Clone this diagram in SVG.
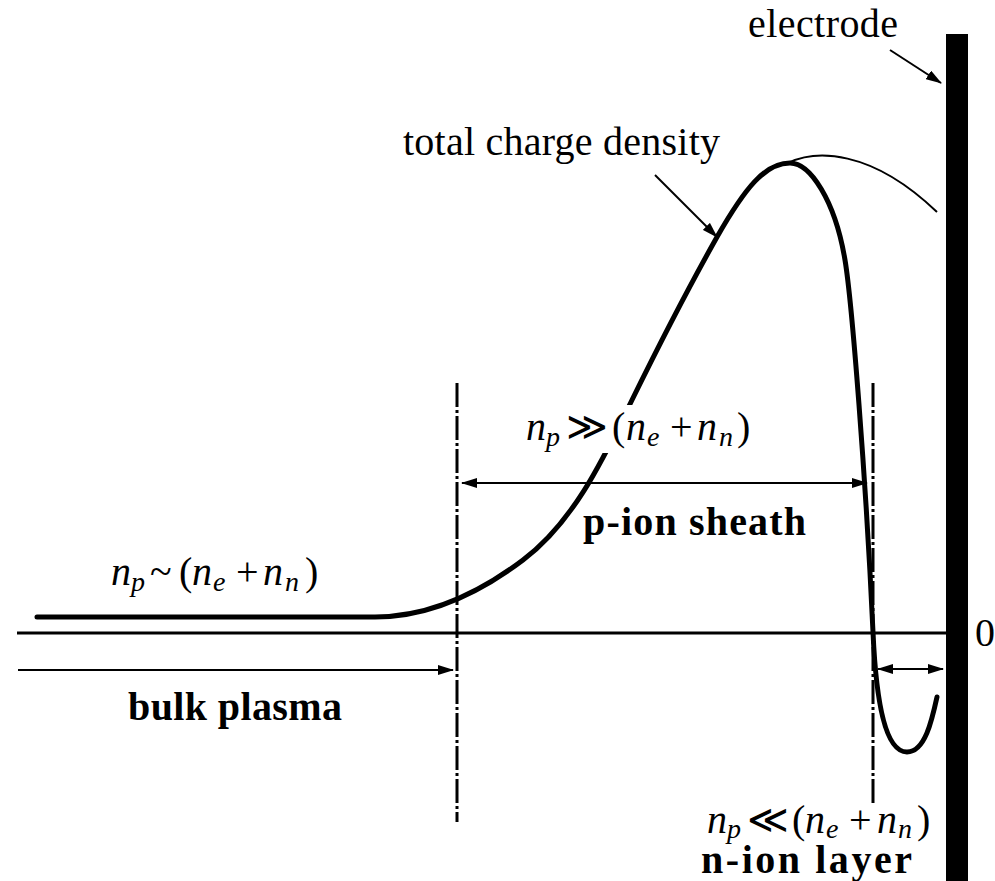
<svg xmlns="http://www.w3.org/2000/svg" width="995" height="881" viewBox="0 0 995 881">
<defs>
<style>
.t{font-family:"Liberation Serif","Times New Roman",serif;font-size:40px;fill:#000}
.b{font-weight:bold}
.m{font-family:"Liberation Serif","Times New Roman",serif;font-size:40px;font-style:italic;fill:#000}
.u{font-style:normal}
.s{font-size:28px}
.ln{stroke:#000;stroke-width:2;fill:none}
.dd{stroke:#000;stroke-width:3;fill:none;stroke-dasharray:24 3 3 3}
</style>
<marker id="ah" markerWidth="16" markerHeight="10" refX="15" refY="5" orient="auto-start-reverse" markerUnits="userSpaceOnUse">
<path d="M0,0 L16,5 L0,10 Z" fill="#000"/>
</marker>
</defs>
<rect width="995" height="881" fill="#fff"/>
<g id="electrode">
<rect x="946" y="34" width="22" height="847" fill="#000"/>
</g>
<g id="axis">
<line x1="17" y1="633" x2="946" y2="633" stroke="#000" stroke-width="3"/>
<text class="t" x="975" y="646">0</text>
</g>
<g id="boundaries">
<line class="dd" x1="457" y1="383" x2="457" y2="822"/>
<line class="dd" x1="873" y1="383" x2="873" y2="806"/>
</g>
<g id="curves">
<path d="M37,617 L375,617 C420,617 470,600 523,560 C575,521 605,455 632,400 C660,343 690,285 717,237 C745,188 765,163 790,163 C810,163 835,200 845,260 C852,302 866,480 873,632 C876,700 885,752 907,752 C925,752 932,720 937,697" fill="none" stroke="#000" stroke-width="5" stroke-linecap="round"/>
<path d="M788,163 C815,150 870,148 937,212" fill="none" stroke="#000" stroke-width="2"/>
</g>
<g id="connectors">
<line class="ln" x1="890" y1="50" x2="941" y2="83" marker-end="url(#ah)"/>
<line class="ln" x1="655" y1="175" x2="717" y2="237" marker-end="url(#ah)"/>
<line class="ln" x1="462" y1="483" x2="867" y2="483" marker-start="url(#ah)" marker-end="url(#ah)"/>
<line class="ln" x1="18" y1="670" x2="453" y2="670" marker-end="url(#ah)"/>
<line class="ln" x1="878" y1="669" x2="943" y2="669" marker-start="url(#ah)" marker-end="url(#ah)"/>
</g>
<g id="labels">
<text class="t" x="748" y="37" textLength="150">electrode</text>
<text class="t" x="403" y="155" textLength="317">total charge density</text>
<text class="t b" x="128" y="720" textLength="214">bulk plasma</text>
<text class="t b" x="583" y="535" textLength="223">p-ion sheath</text>
<text class="t b" x="701" y="873" textLength="211">n-ion layer</text>
</g>
<g id="bulk-label">
<text class="m" y="585"><tspan x="111">n</tspan><tspan class="s" x="131" y="591">p</tspan><tspan class="u" x="150" y="585">~</tspan><tspan class="u" x="179">(</tspan><tspan x="192">n</tspan><tspan class="s" x="213" y="591">e</tspan><tspan class="u" x="236" y="585">+</tspan><tspan x="263">n</tspan><tspan class="s" x="285" y="591">n</tspan><tspan class="u" x="305" y="585">)</tspan></text>
</g>
<g id="sheath-label">
<rect x="600" y="405" width="40" height="48" fill="#fff"/>
<text class="m" y="440"><tspan x="526">n</tspan><tspan class="s" x="546" y="446">p</tspan><tspan class="u" x="566" y="440">≫</tspan><tspan class="u" x="612">(</tspan><tspan x="626">n</tspan><tspan class="s" x="647" y="446">e</tspan><tspan class="u" x="670" y="440">+</tspan><tspan x="697">n</tspan><tspan class="s" x="719" y="446">n</tspan><tspan class="u" x="737" y="440">)</tspan></text>
</g>
<g id="nion-label">
<text class="m" y="833"><tspan x="707">n</tspan><tspan class="s" x="727" y="838">p</tspan><tspan class="u" x="747" y="833">≪</tspan><tspan class="u" x="792">(</tspan><tspan x="805">n</tspan><tspan class="s" x="826" y="838">e</tspan><tspan class="u" x="849" y="833">+</tspan><tspan x="877">n</tspan><tspan class="s" x="898" y="838">n</tspan><tspan class="u" x="917" y="833">)</tspan></text>
</g>
</svg>
